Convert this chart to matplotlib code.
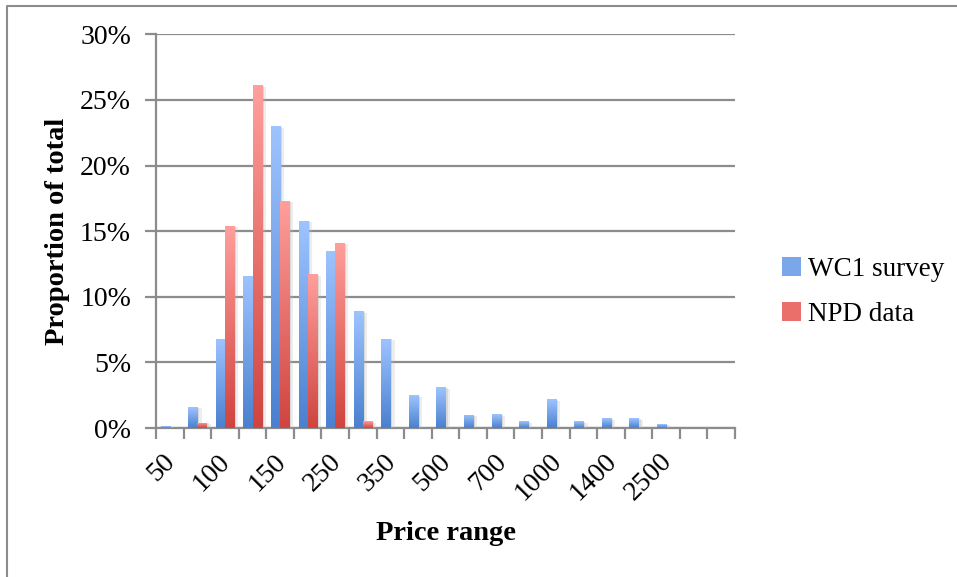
import numpy as np
import matplotlib
matplotlib.use("Agg")
import matplotlib.pyplot as plt
from matplotlib.lines import Line2D
from matplotlib import patheffects as pe
from matplotlib.colors import LinearSegmentedColormap
from matplotlib.transforms import ScaledTranslation

# ---- data ----
tick_labels = ['50', '', '100', '', '150', '', '250', '', '350', '', '500', '',
               '700', '', '1000', '', '1400', '', '2500', '', '']
wc1_survey = [0.15, 1.6, 6.8, 11.6, 23.0, 15.8, 13.5, 8.9, 6.8, 2.5, 3.1, 1.0,
              1.05, 0.5, 2.2, 0.5, 0.75, 0.75, 0.3, 0.0, 0.0]
npd_data = [0.0, 0.4, 15.4, 26.1, 17.3, 11.7, 14.1, 0.5, 0.0, 0.0, 0.0, 0.0,
            0.0, 0.0, 0.0, 0.0, 0.0, 0.0, 0.0, 0.0, 0.0]
series_names = ['WC1 survey', 'NPD data']
y_ticks = [0, 5, 10, 15, 20, 25, 30]

plt.rcParams['font.family'] = ['Liberation Serif', 'DejaVu Serif']

W, H = 957, 577
fig = plt.figure(figsize=(W / 100, H / 100), dpi=100)
ax = fig.add_axes([156 / W, 1 - 428 / H, (735 - 156) / W, (428 - 34.3) / H])

n = len(tick_labels)
x = np.arange(n)
bw = 0.33
grid_col = '#8c8c8c'

blue_cmap = LinearSegmentedColormap.from_list('b', ['#4a80cf', '#9ec4ff'])
red_cmap = LinearSegmentedColormap.from_list('r', ['#d0443f', '#ff9f9c'])

shadow = [pe.SimplePatchShadow(offset=(3, -1), shadow_rgbFace='#bbbbbb', alpha=0.25),
          pe.SimplePatchShadow(offset=(1.5, -0.5), shadow_rgbFace='#aaaaaa', alpha=0.3),
          pe.Normal()]
b1 = ax.bar(x - bw / 2, wc1_survey, width=bw, color='#7aa7ea', zorder=3, path_effects=shadow, label=series_names[0])
b2 = ax.bar(x + bw / 2, npd_data, width=bw, color='#ea6f6b', zorder=3, path_effects=shadow, label=series_names[1])

grad = np.linspace(0, 1, 256).reshape(-1, 1)
for bars, cmap in ((b1, blue_cmap), (b2, red_cmap)):
    for r in bars:
        h = r.get_height()
        if h <= 0:
            continue
        x0 = r.get_x()
        im = ax.imshow(grad, cmap=cmap, origin='lower', aspect='auto',
                       extent=[x0, x0 + r.get_width(), 0, h], zorder=4, interpolation='bilinear')
        im.set_clip_path(r)

ax.set_xlim(-0.5, n - 0.5)
ax.set_ylim(0, 30)

# y axis
ax.set_yticks(y_ticks)
ax.set_yticklabels([f'{v}%' for v in y_ticks])
ax.yaxis.grid(True, color=grid_col, linewidth=1.6, zorder=0)
ax.set_axisbelow(True)
ax.tick_params(axis='y', length=8, width=1.6, color=grid_col, pad=10, labelsize=20)

# x axis
ax.set_xticks(x)
ax.set_xticklabels(tick_labels, rotation=45, ha='right', va='top', rotation_mode='anchor')
ax.tick_params(axis='x', which='major', length=0, pad=15, labelsize=20)
off = ScaledTranslation(-7 / 100, 0, fig.dpi_scale_trans)
for lbl in ax.get_xticklabels():
    lbl.set_transform(lbl.get_transform() + off)
ax.set_xticks(np.arange(n + 1) - 0.5, minor=True)
ax.tick_params(axis='x', which='minor', length=8, width=1.6, color=grid_col)

for s in ('top', 'right'):
    ax.spines[s].set_visible(False)
for s in ('left', 'bottom'):
    ax.spines[s].set_color(grid_col)
    ax.spines[s].set_linewidth(1.6)

fig.text(57 / W, 1 - 231 / H, 'Proportion of total', rotation=90, ha='center', va='center',
         fontsize=20.5, fontweight='bold')
fig.text(446 / W, 1 - 533 / H, 'Price range', ha='center', va='center', fontsize=20.5, fontweight='bold')

# legend
handles = [plt.Rectangle((0, 0), 1, 1, facecolor='#7aa7ea'), plt.Rectangle((0, 0), 1, 1, facecolor='#ea6f6b')]
fig.legend(handles, series_names, loc='center left', bbox_to_anchor=(758 / W, 1 - 292 / H),
           frameon=False, fontsize=19.5, handlelength=0.7, handleheight=0.7, handletextpad=0.25,
           labelspacing=0.75)

# chart-area border (left and top visible)
bx, by = 6.5 / W, 1 - 5.5 / H
fig.add_artist(Line2D([bx, bx, 1.0], [0.0, by, by], color='#8c8c8c', linewidth=1.5, transform=fig.transFigure))

fig.savefig('out.png', dpi=100)
